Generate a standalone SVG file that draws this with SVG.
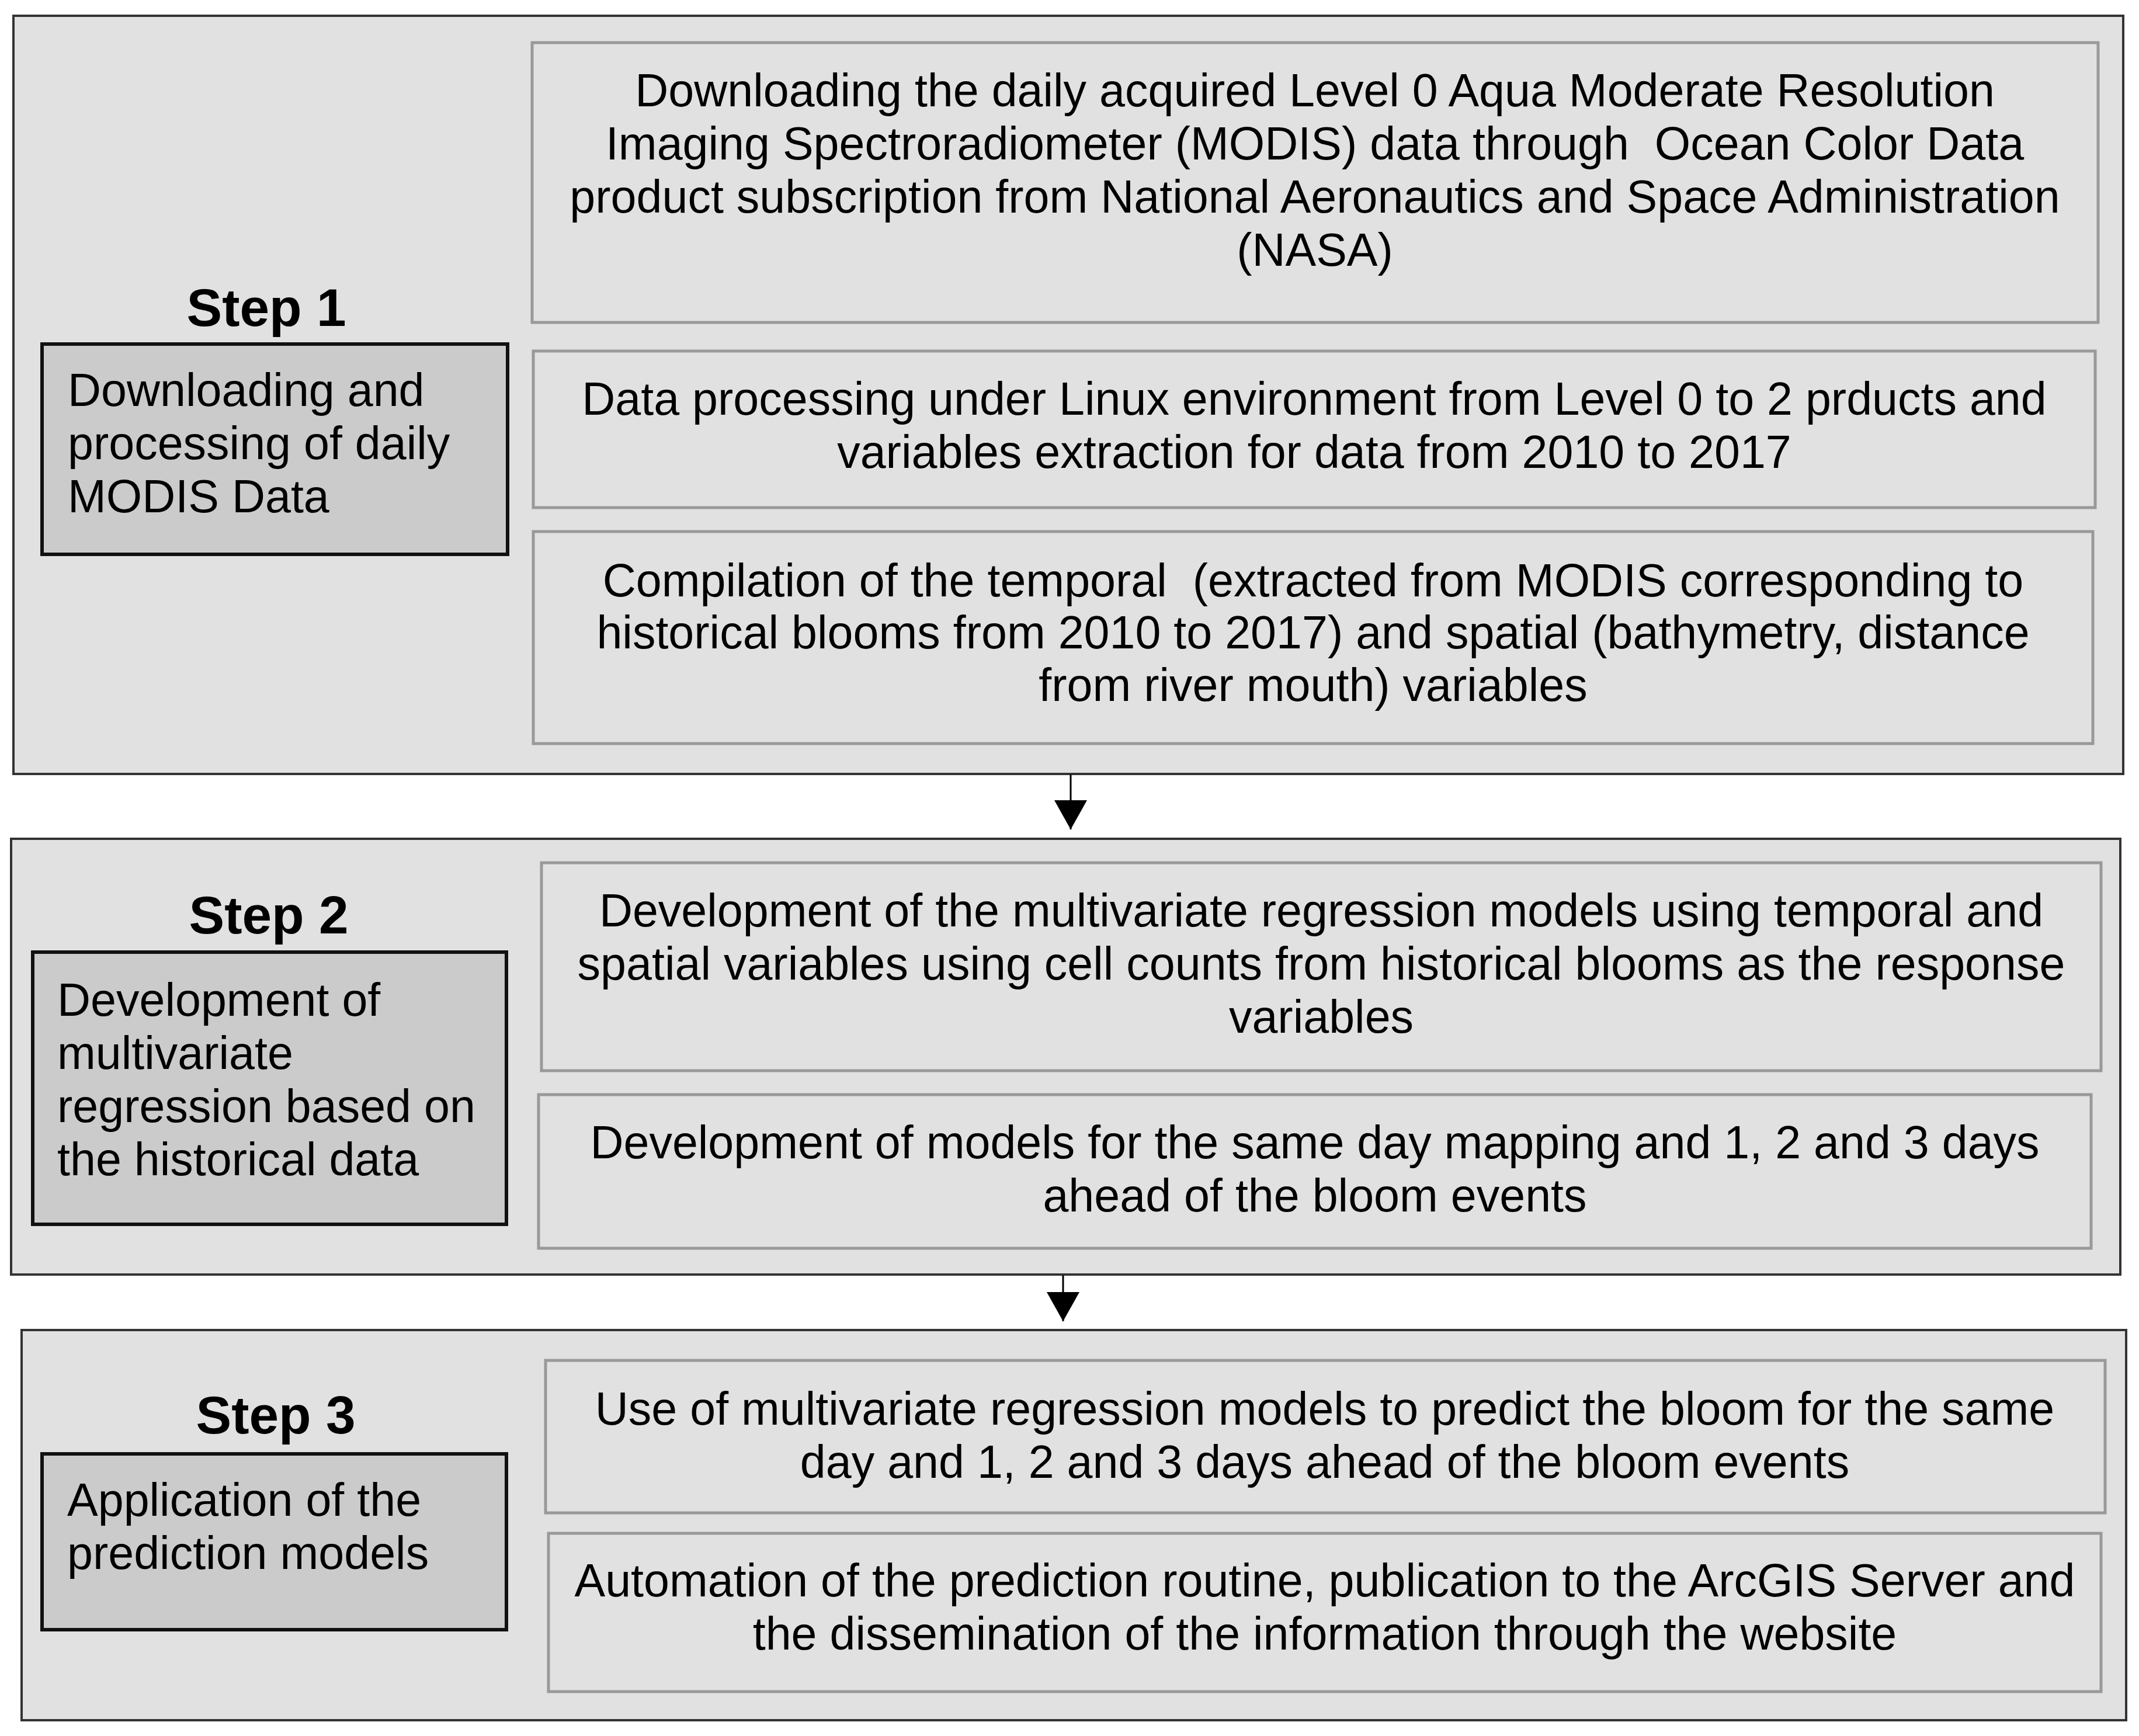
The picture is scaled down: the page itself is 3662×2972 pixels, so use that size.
<svg xmlns="http://www.w3.org/2000/svg" width="3662" height="2972" viewBox="0 0 3662 2972">
<style>
.outer{fill:#e1e1e1;stroke:#333;stroke-width:4}
.side{fill:#cbcbcb;stroke:#111;stroke-width:6}
.item{fill:#e1e1e1;stroke:#999;stroke-width:5}
text{font-family:"Liberation Sans",Arial,sans-serif;font-size:79px;fill:#000}
.c{text-anchor:middle}
.step{font-weight:bold;font-size:91px;text-anchor:middle}
.conn{stroke:#000;stroke-width:3;fill:none}
</style>
<defs>
<marker id="ah" markerUnits="userSpaceOnUse" markerWidth="50" markerHeight="56" refX="50" refY="28" orient="auto" viewBox="0 0 50 56">
<path d="M0,0 L50,28 L0,56 Z" fill="#000"/>
</marker>
</defs>
<rect width="3662" height="2972" fill="#fff"/>

<g id="step1">
<rect class="outer" x="23" y="27" width="3612" height="1298"/>
<text class="step" x="456" y="558">Step 1</text>
<g id="step1-label">
<rect class="side" x="72" y="589" width="797" height="360"/>
<text x="116" y="695">Downloading and</text>
<text x="116" y="786">processing of daily</text>
<text x="116" y="877">MODIS Data</text>
</g>
<g id="step1-a">
<rect class="item" x="911" y="73" width="2681" height="479"/>
<text class="c" x="2251" y="182">Downloading the daily acquired Level 0 Aqua Moderate Resolution</text>
<text class="c" x="2251" y="273" xml:space="preserve">Imaging Spectroradiometer (MODIS) data through  Ocean Color Data</text>
<text class="c" x="2251" y="364">product subscription from National Aeronautics and Space Administration</text>
<text class="c" x="2251" y="455">(NASA)</text>
</g>
<g id="step1-b">
<rect class="item" x="913" y="601" width="2674" height="268"/>
<text class="c" x="2250" y="710">Data processing under Linux environment from Level 0 to 2 prducts and</text>
<text class="c" x="2250" y="801">variables extraction for data from 2010 to 2017</text>
</g>
<g id="step1-c">
<rect class="item" x="913" y="910" width="2670" height="363"/>
<text class="c" x="2248" y="1021" xml:space="preserve">Compilation of the temporal  (extracted from MODIS corresponding to</text>
<text class="c" x="2248" y="1110">historical blooms from 2010 to 2017) and spatial (bathymetry, distance</text>
<text class="c" x="2248" y="1200">from river mouth) variables</text>
</g>
</g>

<g id="step2">
<rect class="outer" x="19" y="1436" width="3611" height="746"/>
<text class="step" x="460" y="1598">Step 2</text>
<g id="step2-label">
<rect class="side" x="56" y="1630" width="811" height="466"/>
<text x="98" y="1739">Development of</text>
<text x="98" y="1830">multivariate</text>
<text x="98" y="1921">regression based on</text>
<text x="98" y="2012">the historical data</text>
</g>
<g id="step2-a">
<rect class="item" x="927" y="1477" width="2670" height="356"/>
<text class="c" x="2262" y="1586">Development of the multivariate regression models using temporal and</text>
<text class="c" x="2262" y="1677">spatial variables using cell counts from historical blooms as the response</text>
<text class="c" x="2262" y="1768">variables</text>
</g>
<g id="step2-b">
<rect class="item" x="922" y="1874" width="2658" height="263"/>
<text class="c" x="2251" y="1983">Development of models for the same day mapping and 1, 2 and 3 days</text>
<text class="c" x="2251" y="2074">ahead of the bloom events</text>
</g>
</g>

<g id="step3">
<rect class="outer" x="37" y="2277" width="3603" height="668"/>
<text class="step" x="472" y="2454">Step 3</text>
<g id="step3-label">
<rect class="side" x="72" y="2489" width="795" height="301"/>
<text x="115" y="2595">Application of the</text>
<text x="115" y="2686">prediction models</text>
</g>
<g id="step3-a">
<rect class="item" x="934" y="2329" width="2670" height="261"/>
<text class="c" x="2268" y="2439">Use of multivariate regression models to predict the bloom for the same</text>
<text class="c" x="2268" y="2530">day and 1, 2 and 3 days ahead of the bloom events</text>
</g>
<g id="step3-b">
<rect class="item" x="939" y="2625" width="2658" height="271"/>
<text class="c" x="2268" y="2733">Automation of the prediction routine, publication to the ArcGIS Server and</text>
<text class="c" x="2268" y="2824">the dissemination of the information through the website</text>
</g>
</g>

<g id="connectors">
<path class="conn" d="M1833,1326 L1833,1420" marker-end="url(#ah)"/>
<path class="conn" d="M1820,2183 L1820,2262" marker-end="url(#ah)"/>
</g>
</svg>
